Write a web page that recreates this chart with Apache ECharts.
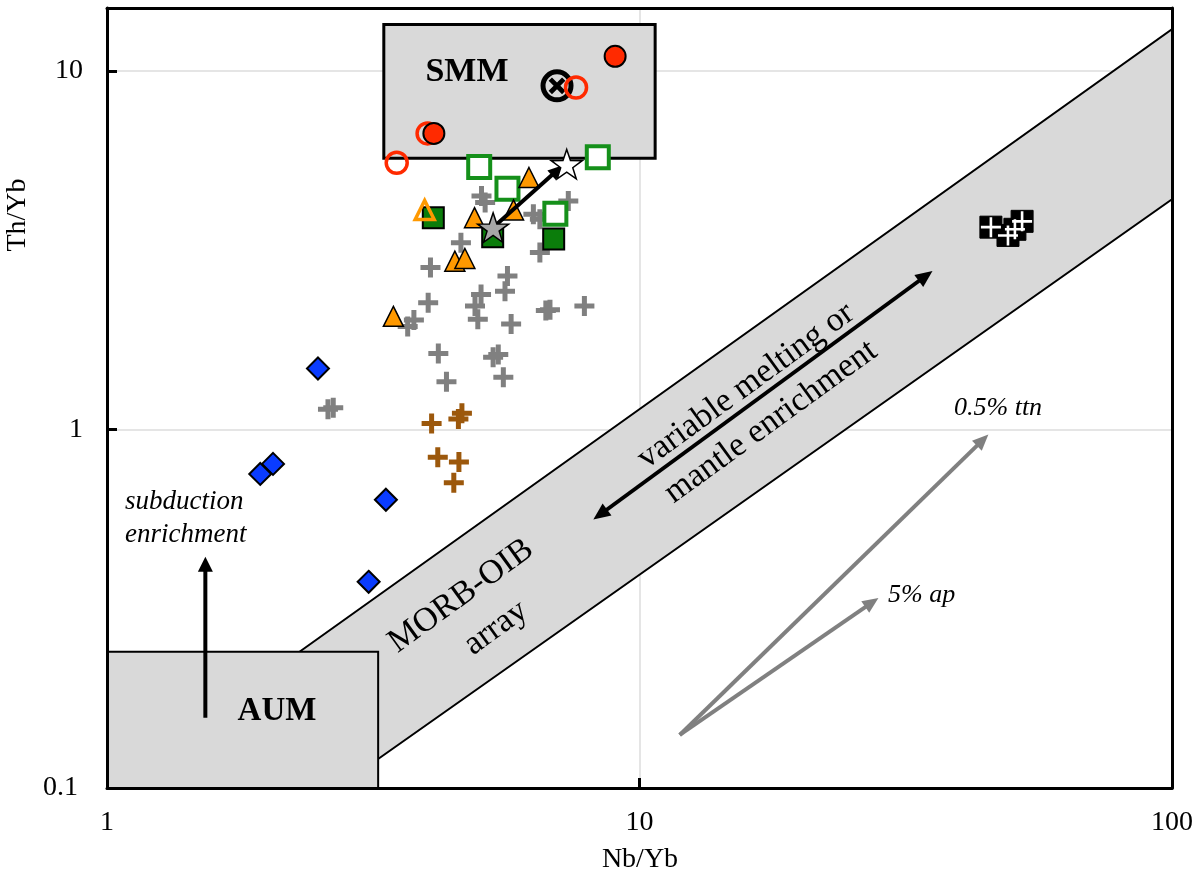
<!DOCTYPE html>
<html><head><meta charset="utf-8">
<script src="https://cdn.jsdelivr.net/npm/echarts@6/dist/echarts.min.js"></script>
<style>html,body{margin:0;padding:0;background:#fff}#c{width:1201px;height:884px}</style>
</head><body><div id="c"></div>
<script>
// ---------------- data (Nb/Yb, Th/Yb) ----------------
const xTickLabels = ['1', '10', '100'];
const yTickLabels = ['0.1', '1', '10'];
const xRange = [1, 100];
const yRange = [0.1, 15];

const redFilled = [[9.0, 11.0], [4.11, 6.7]];
const redOpen = [[7.6, 9.0], [4.0, 6.7], [3.5, 5.55]];
const blackCircleX = [[7.0, 9.1]];
const greenOpen = [[5.0, 5.4], [5.65, 4.7], [6.95, 4.0], [8.35, 5.75]];
const greenFilled = [[4.1, 3.9], [5.3, 3.45], [6.9, 3.4]];
const orangeFilled = [[6.2, 5.05], [4.9, 3.9], [5.8, 4.1], [4.5, 2.95], [4.7, 3.0], [3.45, 2.07]];
const orangeOpen = [[3.95, 4.1]];
const grayCross = [[5.05, 4.48], [5.13, 4.30], [7.35, 4.34], [6.32, 3.99], [6.50, 3.86], [4.62, 3.32],
  [6.50, 3.12], [4.05, 2.83], [5.65, 2.68], [5.59, 2.43], [5.04, 2.38], [4.01, 2.26], [4.91, 2.21],
  [6.79, 2.16], [6.67, 2.15], [7.88, 2.21], [4.97, 2.03], [5.74, 1.97], [3.77, 2.02], [3.67, 1.94],
  [4.19, 1.63], [5.43, 1.62], [5.31, 1.59], [5.55, 1.40], [4.34, 1.36], [2.66, 1.15], [2.60, 1.14]];
const brownCross = [[4.07, 1.04], [4.64, 1.11], [4.57, 1.07], [4.18, 0.837], [4.58, 0.812], [4.48, 0.710]];
const blueDiamond = [[2.49, 1.48], [2.05, 0.802], [1.94, 0.752], [3.34, 0.637], [3.10, 0.376]];
const blackSquare = [[45.7, 3.67], [49.2, 3.48], [52.3, 3.81], [50.7, 3.62]];
const starGray = [[5.31, 3.66]];
const starWhite = [[7.3, 5.5]];

// fields: [xmin, xmax, ymin, ymax]
const aumBox = [1, 3.23, 0.1, 0.24];
const smmBox = [3.31, 10.7, 5.71, 13.5];
const morbArray = [[2.0, 0.207], [100, 13.1], [100, 4.39], [3.0, 0.1115]];

const arrowSubduction = [[1.53, 0.157], [1.53, 0.442]];
const arrowMelting = [[8.19, 0.561], [35.5, 2.77]];
const arrowStar = [[5.31, 3.66], [7.18, 5.46]];
const arrowTtn = [[11.9, 0.1406], [45.2, 0.968]];
const arrowAp = [[11.9, 0.1406], [28.1, 0.339]];

// ---------------- symbols ----------------
const PLUS = 'path://M3.75,0H6.25V3.75H10V6.25H6.25V10H3.75V6.25H0V3.75H3.75Z';
const PLUS_THIN = 'path://M4.35,0H5.65V4.35H10V5.65H5.65V10H4.35V5.65H0V4.35H4.35Z';
const STAR = (function () {
  const pts = [];
  for (let i = 0; i < 10; i++) {
    const r = i % 2 ? 3.9 : 10, a = (-90 + i * 36) * Math.PI / 180;
    pts.push((10 + r * Math.cos(a)).toFixed(3) + ',' + (10 + r * Math.sin(a)).toFixed(3));
  }
  return 'path://M' + pts.join('L') + 'Z';
})();

const SERIF = '"Liberation Serif", "Times New Roman", serif';

function boxPts(b) { return [[b[0], b[2]], [b[1], b[2]], [b[1], b[3]], [b[0], b[3]]]; }

function polySeries(points, style, z) {
  return {
    type: 'custom', coordinateSystem: 'cartesian2d', xAxisIndex: 0, yAxisIndex: 0,
    z: z, silent: true, animation: false, data: [[1, 1]],
    renderItem: function (p, api) {
      return { type: 'polygon', shape: { points: points.map(function (pt) { return api.coord(pt); }) }, style: style };
    }
  };
}

function arrowSeries(pts, color, width, headLen, headW, both, z) {
  return {
    type: 'custom', coordinateSystem: 'cartesian2d', xAxisIndex: 0, yAxisIndex: 0,
    z: z, silent: true, animation: false, data: [[1, 1]],
    renderItem: function (p, api) {
      const a = api.coord(pts[0]), b = api.coord(pts[1]);
      const dx = b[0] - a[0], dy = b[1] - a[1], L = Math.hypot(dx, dy), ux = dx / L, uy = dy / L;
      function head(tip, sgn) {
        const bx = tip[0] - sgn * ux * headLen, by = tip[1] - sgn * uy * headLen;
        return { type: 'polygon', shape: { points: [tip, [bx - uy * headW / 2, by + ux * headW / 2], [bx + uy * headW / 2, by - ux * headW / 2]] }, style: { fill: color } };
      }
      const s = both ? [a[0] + ux * headLen * 0.7, a[1] + uy * headLen * 0.7] : a;
      const e = [b[0] - ux * headLen * 0.7, b[1] - uy * headLen * 0.7];
      const ch = [{ type: 'line', shape: { x1: s[0], y1: s[1], x2: e[0], y2: e[1] }, style: { stroke: color, lineWidth: width } }, head(b, 1)];
      if (both) ch.push(head(a, -1));
      return { type: 'group', children: ch };
    }
  };
}

function sc(data, symbol, size, itemStyle, z, extra) {
  return Object.assign({
    type: 'scatter', xAxisIndex: 0, yAxisIndex: 0, data: data, symbol: symbol, symbolSize: size,
    itemStyle: Object.assign({ opacity: 1 }, itemStyle), z: z, silent: true, animation: false
  }, extra || {});
}

function isPow10(v) { const l = Math.log10(v); return Math.abs(l - Math.round(l)) < 1e-6; }
function fmtX(v) { if (!isPow10(v)) return ''; const i = Math.round(Math.log10(v)); return xTickLabels[i] || ''; }
function fmtY(v) {
  if (!isPow10(v)) return '';
  const i = Math.round(Math.log10(v)) + 1;
  const t = yTickLabels[i] || '';
  return i === 0 ? '{s|' + t + '}' : t;
}

const frameLine = { show: true, onZero: false, lineStyle: { color: '#000', width: 3 } };
const noSplit = { show: false };

const option = {
  backgroundColor: '#fff',
  animation: false,
  grid: { left: 107, right: 29, top: 8, bottom: 96, show: false },
  xAxis: [
    { type: 'log', min: xRange[0], max: xRange[1], position: 'bottom', axisLine: { show: false }, axisTick: { show: false }, axisLabel: { show: false },
      splitLine: { show: true, lineStyle: { color: '#dcdcdc', width: 1.5 } }, z: 0 },
    { type: 'log', min: xRange[0], max: xRange[1], position: 'bottom', z: 20, axisLine: frameLine,
      axisTick: { show: true, inside: true, length: 10, lineStyle: { color: '#000', width: 3 } },
      axisLabel: { show: true, formatter: fmtX, fontFamily: SERIF, fontSize: 28, color: '#000', margin: 21 }, splitLine: noSplit },
    { type: 'log', min: xRange[0], max: xRange[1], position: 'top', z: 20, axisLine: frameLine, axisTick: { show: false }, axisLabel: { show: false }, splitLine: noSplit }
  ],
  yAxis: [
    { type: 'log', min: yRange[0], max: yRange[1], position: 'left', axisLine: { show: false }, axisTick: { show: false }, axisLabel: { show: false },
      splitLine: { show: true, lineStyle: { color: '#dcdcdc', width: 1.5 } }, z: 0 },
    { type: 'log', min: yRange[0], max: yRange[1], position: 'left', z: 20, axisLine: frameLine,
      axisTick: { show: true, inside: true, length: 10, lineStyle: { color: '#000', width: 3 } },
      axisLabel: { show: true, formatter: fmtY, fontFamily: SERIF, fontSize: 28, color: '#000', margin: 24,
        rich: { s: { fontFamily: SERIF, fontSize: 28, color: '#000', padding: [0, 5, 0, 0] } } }, splitLine: noSplit },
    { type: 'log', min: yRange[0], max: yRange[1], position: 'right', z: 20, axisLine: frameLine, axisTick: { show: false }, axisLabel: { show: false }, splitLine: noSplit }
  ],
  series: [
    polySeries(morbArray, { fill: '#d9d9d9', stroke: '#000', lineWidth: 2 }, 1),
    polySeries(boxPts(aumBox), { fill: '#d9d9d9', stroke: '#000', lineWidth: 2 }, 1.1),
    polySeries(boxPts(smmBox), { fill: '#d9d9d9', stroke: '#000', lineWidth: 3 }, 1.1),
    arrowSeries(arrowSubduction, '#000', 4, 15, 15, false, 2),
    arrowSeries(arrowMelting, '#000', 4, 17, 15, true, 2),
    arrowSeries(arrowTtn, '#808080', 4, 16, 14, false, 2),
    arrowSeries(arrowAp, '#808080', 4, 16, 14, false, 2),
    sc(grayCross, PLUS, 20, { color: '#808080' }, 3),
    sc(brownCross, PLUS, 20, { color: '#9c580c' }, 3),
    sc(blueDiamond, 'diamond', 22, { color: '#0a3cff', borderColor: '#000', borderWidth: 2 }, 3.1),
    sc(greenOpen, 'rect', 22, { color: 'rgba(255,255,255,1)', borderColor: '#15901a', borderWidth: 4 }, 3.2),
    sc(greenFilled, 'rect', 21, { color: '#0b7d0b', borderColor: '#000', borderWidth: 2 }, 3.3),
    sc(orangeOpen, 'triangle', 19, { color: 'rgba(255,255,255,0)', borderColor: '#ff9900', borderWidth: 3.5 }, 3.4),
    sc(orangeFilled, 'triangle', 20, { color: '#ff9900', borderColor: '#000', borderWidth: 1.5 }, 3.4),
    sc(blackCircleX, 'circle', 28, { color: 'rgba(0,0,0,0)', borderColor: '#000', borderWidth: 5 }, 3.5),
    sc(blackCircleX, PLUS, 19, { color: '#000' }, 3.5, { symbolRotate: 45 }),
    sc(redOpen, 'circle', 21, { color: 'rgba(0,0,0,0)', borderColor: '#ff2a00', borderWidth: 3.5 }, 3.6),
    sc(redFilled, 'circle', 21, { color: '#ff2a00', borderColor: '#000', borderWidth: 2 }, 3.7),
    sc(blackSquare, 'rect', 22, { color: '#000', borderColor: '#000', borderWidth: 1 }, 3.8),
    sc(blackSquare, PLUS_THIN, 20, { color: '#fff' }, 3.9),
    arrowSeries(arrowStar, '#000', 4, 15, 13, false, 4),
    sc(starGray, STAR, 31, { color: '#a6a6a6', borderColor: '#000', borderWidth: 1.5 }, 5, { symbolKeepAspect: true }),
    sc(starWhite, STAR, 31, { color: '#ffffff', borderColor: '#000', borderWidth: 1.5 }, 5, { symbolKeepAspect: true })
  ],
  graphic: [
    { type: 'text', x: 467, y: 72, z: 100, style: { text: 'SMM', font: 'bold 34px ' + SERIF, fill: '#000', align: 'center', verticalAlign: 'middle' } },
    { type: 'text', x: 277, y: 711, z: 100, style: { text: 'AUM', font: 'bold 33px ' + SERIF, fill: '#000', align: 'center', verticalAlign: 'middle' } },
    { type: 'text', x: 125, y: 502, z: 100, style: { text: 'subduction', font: 'italic 27px ' + SERIF, fill: '#000', align: 'left', verticalAlign: 'middle' } },
    { type: 'text', x: 125, y: 535, z: 100, style: { text: 'enrichment', font: 'italic 27px ' + SERIF, fill: '#000', align: 'left', verticalAlign: 'middle' } },
    { type: 'text', x: 954, y: 408, z: 100, style: { text: '0.5% ttn', font: 'italic 26px ' + SERIF, fill: '#000', align: 'left', verticalAlign: 'middle' } },
    { type: 'text', x: 888, y: 595, z: 100, style: { text: '5% ap', font: 'italic 26px ' + SERIF, fill: '#000', align: 'left', verticalAlign: 'middle' } },
    { type: 'text', x: 461, y: 596, rotation: 36 * Math.PI / 180, z: 100, style: { text: 'MORB-OIB', font: '34px ' + SERIF, fill: '#000', align: 'center', verticalAlign: 'middle' } },
    { type: 'text', x: 496, y: 628, rotation: 36 * Math.PI / 180, z: 100, style: { text: 'array', font: '34px ' + SERIF, fill: '#000', align: 'center', verticalAlign: 'middle' } },
    { type: 'text', x: 746, y: 386, rotation: 36 * Math.PI / 180, z: 100, style: { text: 'variable melting or', font: '34px ' + SERIF, fill: '#000', align: 'center', verticalAlign: 'middle' } },
    { type: 'text', x: 771, y: 422, rotation: 36 * Math.PI / 180, z: 100, style: { text: 'mantle enrichment', font: '34px ' + SERIF, fill: '#000', align: 'center', verticalAlign: 'middle' } },
    { type: 'text', x: 18, y: 215, rotation: Math.PI / 2, z: 100, style: { text: 'Th/Yb', font: '28px ' + SERIF, fill: '#000', align: 'center', verticalAlign: 'middle' } },
    { type: 'text', x: 640, y: 860, z: 100, style: { text: 'Nb/Yb', font: '28px ' + SERIF, fill: '#000', align: 'center', verticalAlign: 'middle' } }
  ]
};

const chart = echarts.init(document.getElementById('c'), null, { renderer: 'canvas' });
chart.setOption(option);
</script>
</body></html>
